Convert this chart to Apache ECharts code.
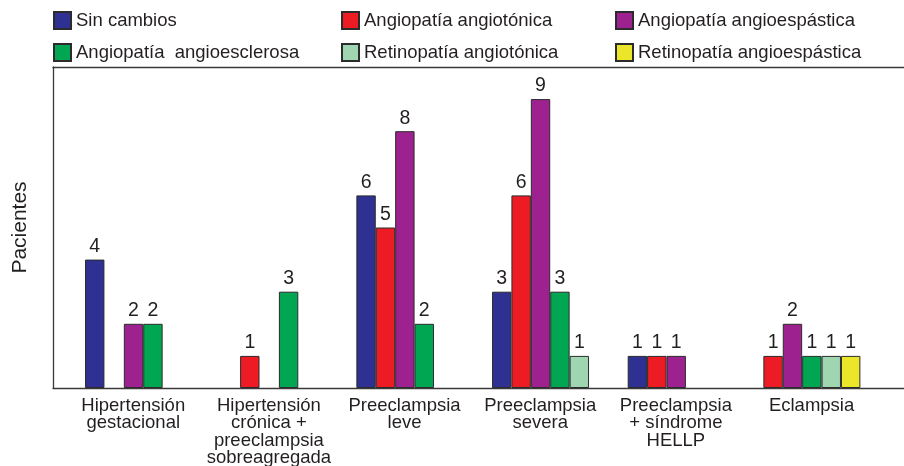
<!DOCTYPE html>
<html>
<head>
<meta charset="utf-8">
<script src="https://cdn.jsdelivr.net/npm/echarts@6/dist/echarts.min.js"></script>
<style>
html,body{margin:0;padding:0;background:#fff;}
#chart{width:904px;height:466px;}
</style>
</head>
<body>
<div id="chart"></div>
<script>
// ---- data ----
const categories = [
  "Hipertensión\ngestacional",
  "Hipertensión\ncrónica +\npreeclampsia\nsobreagregada",
  "Preeclampsia\nleve",
  "Preeclampsia\nsevera",
  "Preeclampsia\n+ síndrome\nHELLP",
  "Eclampsia"
];
const seriesNames = [
  "Sin cambios",
  "Angiopatía angiotónica",
  "Angiopatía angioespástica",
  "Angiopatía  angioesclerosa",
  "Retinopatía angiotónica",
  "Retinopatía angioespástica"
];
const sinCambios            = [4, null, 6, 3, 1, null];
const angiopatiaAngiotonica = [null, 1, 5, 6, 1, 1];
const angiopatiaAngioespast = [2, null, 8, 9, 1, 2];
const angiopatiaAngioescler = [2, 3, 2, 3, null, 1];
const retinopatiaAngiotonica= [null, null, null, 1, null, 1];
const retinopatiaAngioespast= [null, null, null, null, null, 1];
const yAxisName = "Pacientes";

const seriesValues = [sinCambios, angiopatiaAngiotonica, angiopatiaAngioespast,
  angiopatiaAngioescler, retinopatiaAngiotonica, retinopatiaAngioespast];
const colors = ["#2e3192", "#ed1c24", "#9e2190", "#00a651", "#9fd5b0", "#ebe62a"];
// in the last group the empty first slot is not kept (bars start at the first slot)
const slotShift = [0, 0, 0, 0, 0, 1];

const font = "'Liberation Sans', Arial, Helvetica, sans-serif";
const txt = "#231f20";
const lineCol = "#3a3a3a";

const series = seriesNames.map((name, k) => ({
  name: name,
  type: "bar",
  xAxisIndex: 1,
  yAxisIndex: 1,
  barWidth: 19.4,
  barGap: "0%",
  itemStyle: { color: colors[k], borderColor: "#2b2b2b", borderWidth: 1 },
  label: {
    show: true, position: "top", distance: 3,
    fontFamily: font, fontSize: 19.5, color: txt
  },
  data: categories.map((c, j) => {
    const src = k + slotShift[j];
    if (src >= seriesValues.length) return null;
    const v = seriesValues[src][j];
    if (v == null) return null;
    return { value: v, itemStyle: { color: colors[src] } };
  })
}));

const legendCols = [[0, 3], [1, 4], [2, 5]];
const legendLeft = [53, 341, 615];
const legends = legendCols.map((ids, i) => ({
  orient: "vertical",
  left: legendLeft[i],
  top: 11,
  padding: 0,
  itemWidth: 17,
  itemHeight: 17,
  itemGap: 13,
  icon: "rect",
  selectedMode: false,
  textStyle: { fontFamily: font, fontSize: 18.5, color: txt },
  data: ids.map(id => seriesNames[id])
}));

const frameLine = { show: true, onZero: false, lineStyle: { color: lineCol, width: 1.3 } };

const chart = echarts.init(document.getElementById("chart"), null, { renderer: "canvas" });
chart.setOption({
  backgroundColor: "#ffffff",
  animation: false,
  legend: legends,
  grid: [
    { left: 53, right: 0, top: 67, bottom: 78, containLabel: false, outerBoundsMode: "none" },
    { left: 75.4, right: 14.6, top: 67, bottom: 78, containLabel: false, outerBoundsMode: "none" }
  ],
  xAxis: [
    { gridIndex: 0, type: "value", position: "bottom", axisLine: frameLine, axisTick: { show: false }, axisLabel: { show: false }, splitLine: { show: false } },
    {
      gridIndex: 1, type: "category", data: categories,
      axisLine: { show: false }, axisTick: { show: false },
      axisLabel: {
        interval: 0, margin: 9, fontFamily: font, fontSize: 18.5, lineHeight: 17.4,
        color: txt, padding: [0, 20, 0, 0]
      }
    },
    { gridIndex: 0, type: "value", position: "top", axisLine: frameLine, axisTick: { show: false }, axisLabel: { show: false }, splitLine: { show: false } }
  ],
  yAxis: [
    { gridIndex: 0, type: "value", position: "left", axisLine: frameLine, axisTick: { show: false }, axisLabel: { show: false }, splitLine: { show: false } },
    {
      gridIndex: 1, type: "value", min: 0, max: 10,
      axisLine: { show: false }, axisTick: { show: false },
      axisLabel: { show: false }, splitLine: { show: false },
      name: yAxisName, nameLocation: "middle", nameRotate: 90, nameGap: 45,
      nameTextStyle: { fontFamily: font, fontSize: 21, color: txt }
    }
  ],
  series: series
});
</script>
</body>
</html>
